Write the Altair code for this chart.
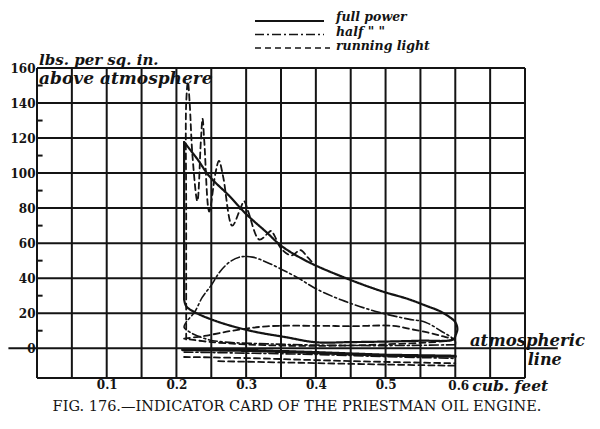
import altair as alt
import pandas as pd

# ---------------- data ----------------
X_DOMAIN = [0.0, 0.7]
Y_DOMAIN = [-17, 160]

x_grid = [0.0, 0.05, 0.1, 0.15, 0.2, 0.25, 0.3, 0.35, 0.4, 0.45, 0.5, 0.55, 0.6, 0.65, 0.7]
y_grid = [20, 40, 60, 80, 100, 120, 140, 160]
y_minor = [10, 30, 50, 70, 90, 110, 130, 150]
x_tick_labels = [0.1, 0.2, 0.3, 0.4, 0.5]
y_tick_labels = [0, 20, 40, 60, 80, 100, 120, 140, 160]

# full power (solid)
full_top_x = [0.211, 0.211]
full_top_y = [28, 117.7]
full_x = [0.211, 0.23, 0.247, 0.276, 0.3, 0.329, 0.351, 0.39, 0.447, 0.494,
          0.533, 0.561, 0.576, 0.59, 0.6, 0.603, 0.601, 0.597, 0.55, 0.5, 0.45, 0.4,
          0.357, 0.309, 0.261, 0.226, 0.214, 0.211]
full_y = [117.7, 108, 98.3, 86.9, 76.6, 66.3, 58.3, 49.1, 39.4, 32.6,
          28, 23.8, 21.5, 18.3, 14.9, 11, 8, 5.1, 4.3, 3.8, 3.5, 3.4,
          6.3, 9.7, 14.9, 20.6, 24, 28]
full_low_x = [0.209, 0.3, 0.4, 0.5, 0.6]
full_low_y = [-0.8, -1.2, -2.5, -4.0, -4.6]

# half power (dash-dot)
half_x = [0.6, 0.5, 0.4, 0.33, 0.27, 0.245, 0.22, 0.211, 0.214, 0.226, 0.237, 0.25,
          0.263, 0.276, 0.29, 0.309, 0.33, 0.351, 0.375, 0.4, 0.437, 0.486, 0.533,
          0.557, 0.58, 0.594, 0.6, 0.6]
half_y = [2, 1.5, 1.8, 2.5, 3.5, 5, 9, 12, 14.9, 20.6, 29, 36,
          44, 49.1, 52, 52, 49, 45, 40, 34, 27.5, 21, 16.6,
          14.9, 9.7, 6.3, 4, 2]
half_low_x = [0.211, 0.3, 0.4, 0.5, 0.6]
half_low_y = [-2.2, -2.8, -3.6, -4.8, -5.8]

# running light (dashed)
run_spike_x = [0.214, 0.214, 0.214, 0.2165, 0.219, 0.223, 0.23, 0.235, 0.2375, 0.24,
               0.247, 0.256, 0.261, 0.267, 0.28, 0.292, 0.297, 0.303, 0.319, 0.332,
               0.336, 0.341, 0.35, 0.365, 0.378, 0.388, 0.395]
run_spike_y = [5, 80, 140, 152, 140, 110, 84, 118, 131, 118,
               78, 100, 107, 98, 70, 80, 84, 78, 62, 66,
               67, 64, 57, 53, 56, 52, 49]
run_loop_x = [0.211, 0.24, 0.28, 0.33, 0.4, 0.45, 0.51, 0.535, 0.56, 0.58, 0.597,
              0.5, 0.35, 0.25, 0.211]
run_loop_y = [5.5, 7, 10, 12.5, 12.8, 12.6, 12.8, 11, 9, 7, 5,
              2.2, 1.5, 3.5, 5.5]
run_low_x = [0.211, 0.3, 0.4, 0.5, 0.6]
run_low_y = [-5.0, -5.6, -6.8, -7.8, -8.6]
run_low2_x = [0.26, 0.4, 0.5, 0.6]
run_low2_y = [-7.4, -8.5, -9.3, -10.0]

legend_labels = ["full power", 'half   "    "', "running light"]
legend_dashes = [[1, 0], [9, 3, 2, 3], [6, 4]]

caption = "FIG. 176.—INDICATOR CARD OF THE PRIESTMAN OIL ENGINE."

# ---------------- helpers ----------------
INK = "#141414"
HAND = "DejaVu Serif"
xs = alt.Scale(domain=X_DOMAIN, nice=False, zero=False)
ys = alt.Scale(domain=Y_DOMAIN, nice=False, zero=False)

AXX = alt.Axis(values=x_tick_labels, format=".1f", domain=False, ticks=False, grid=False,
               labelPadding=1, labelFont=HAND, labelFontSize=12, labelFontWeight="bold",
               labelColor=INK, title=None)
AXY = alt.Axis(values=y_tick_labels, format="d", domain=False, ticks=False, grid=False,
               labelPadding=2, labelFont=HAND, labelFontSize=12, labelFontWeight="bold",
               labelColor=INK, title=None)


def X(f):
    return alt.X(f, scale=xs, axis=AXX)


def Y(f):
    return alt.Y(f, scale=ys, axis=AXY)


def path_df(segments):
    rows = []
    for seg, (xv, yv) in enumerate(segments):
        for i, (a, b) in enumerate(zip(xv, yv)):
            rows.append({"x": a, "y": b, "seg": seg, "o": i})
    return pd.DataFrame(rows)


def curve(segments, dash, width, interp="catmull-rom"):
    return alt.Chart(path_df(segments)).mark_line(
        color=INK, strokeDash=dash, strokeWidth=width, interpolate=interp,
        strokeCap="round", strokeJoin="round"
    ).encode(x=X("x:Q"), y=Y("y:Q"), detail="seg:N", order="o:Q")


# grid: vertical lines
vgrid = alt.Chart(pd.DataFrame({"x": x_grid, "y0": Y_DOMAIN[0], "y1": Y_DOMAIN[1]})).mark_rule(
    color=INK, strokeWidth=2
).encode(x=X("x:Q"), y=Y("y0:Q"), y2="y1:Q")

# grid: horizontal lines
hgrid_df = pd.DataFrame({"y": y_grid + [Y_DOMAIN[0]], "x0": X_DOMAIN[0], "x1": X_DOMAIN[1]})
hgrid = alt.Chart(hgrid_df).mark_rule(color=INK, strokeWidth=2).encode(
    x=X("x0:Q"), x2="x1:Q", y=Y("y:Q"))

# atmospheric line (extends beyond grid)
atmo = alt.Chart(pd.DataFrame({"y": [0], "x0": [-0.041], "x1": [0.747]})).mark_rule(
    color=INK, strokeWidth=2
).encode(x=X("x0:Q"), x2="x1:Q", y=Y("y:Q"))

# minor ticks on y axis
minor = alt.Chart(pd.DataFrame({"y": y_minor, "x0": 0.0, "x1": 0.008})).mark_rule(
    color=INK, strokeWidth=2
).encode(x=X("x0:Q"), x2="x1:Q", y=Y("y:Q"))

full_v = curve([(full_top_x, full_top_y)], [1, 0], 2.2, "linear")
full_c = curve([(full_x, full_y)], [1, 0], 2.2)
full_low = curve([(full_low_x, full_low_y)], [1, 0], 3.2, "linear")
half_c = curve([(half_x, half_y), (half_low_x, half_low_y)], [9, 3, 2, 3], 1.6)
run_c = curve([(run_spike_x, run_spike_y), (run_loop_x, run_loop_y),
               (run_low_x, run_low_y), (run_low2_x, run_low2_y)], [6, 4], 1.8)


def txt(s, x, y, size, align="left", style="italic", weight="bold", dx=0, dy=0, font=HAND):
    return alt.Chart(pd.DataFrame({"x": [x], "y": [y]})).mark_text(
        text=s, align=align, baseline="middle", font=font, fontSize=size,
        fontStyle=style, fontWeight=weight, color=INK, dx=dx, dy=dy
    ).encode(x=X("x:Q"), y=Y("y:Q"))


texts = [
    txt("lbs. per sq. in.", 0.003, 164.8, 15),
    txt("above atmosphere", 0.003, 153.5, 17),
    txt("0.6", 0.6, Y_DOMAIN[0], 12, style="normal", dx=-7, dy=8),
    txt("cub. feet", 0.6, Y_DOMAIN[0], 15.5, dx=17, dy=8),
    txt("atmospheric", 0.621, 4.4, 16.5),
    txt("line", 0.704, -6.5, 16),
]

# legend (manual)
legend_layers = []
for i, (lab, dash) in enumerate(zip(legend_labels, legend_dashes)):
    yy = -47 + i * 13.5
    legend_layers.append(
        alt.Chart(pd.DataFrame({"a": [0]})).mark_rule(
            color=INK, strokeWidth=2 if i == 0 else 1.7, strokeDash=dash
        ).encode(x=alt.value(218), x2=alt.value(287 + (6 if i == 2 else 0)), y=alt.value(yy))
    )
    legend_layers.append(
        alt.Chart(pd.DataFrame({"a": [0]})).mark_text(
            text=lab, align="left", baseline="middle", font=HAND, fontSize=12.5,
            fontStyle="italic", fontWeight="bold", color=INK
        ).encode(x=alt.value(299), y=alt.value(-51 + i * 14.5))
    )

cap = alt.Chart(pd.DataFrame({"a": [0]})).mark_text(
    text=caption, align="center", baseline="middle", font="DejaVu Serif",
    fontSize=14.5, color=INK
).encode(x=alt.value(260), y=alt.value(339))

chart = alt.layer(
    vgrid, hgrid, atmo, minor, full_v, full_c, full_low, half_c, run_c,
    *texts, *legend_layers, cap
).properties(
    width=488, height=310,
    autosize=alt.AutoSizeParams(type="none"),
    padding={"left": 29, "top": 60, "right": 60, "bottom": 43},
).configure_view(stroke=None).configure(background="white")

chart.save("out.html", embed_options={"renderer": "svg", "actions": False})
